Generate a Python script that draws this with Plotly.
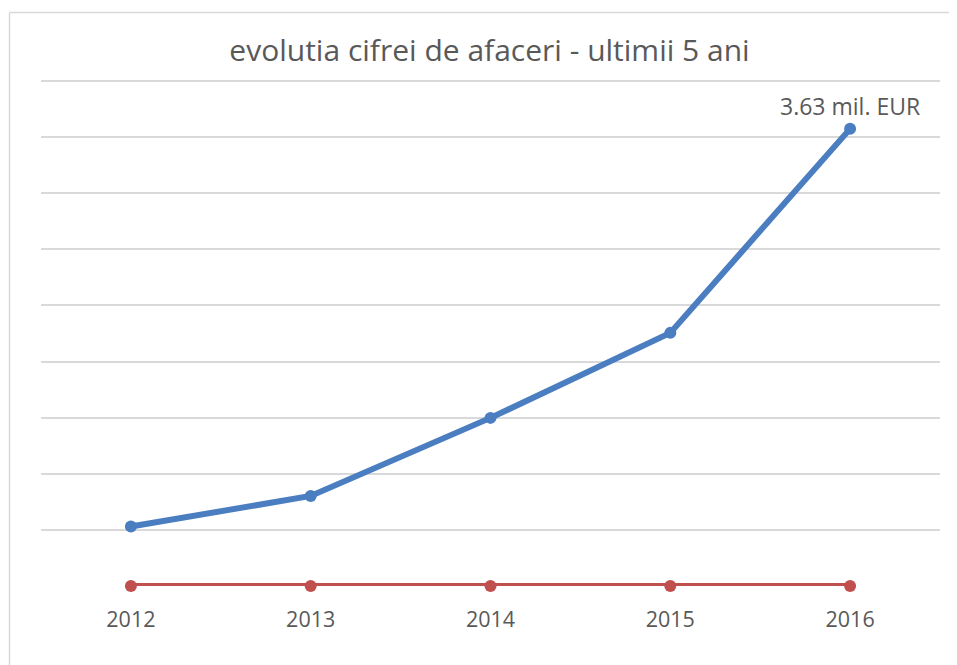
import plotly.graph_objects as go

years = ["2012", "2013", "2014", "2015", "2016"]
cifra_afaceri = [0.472, 0.715, 1.335, 2.01, 3.63]
serie_2 = [0, 0, 0, 0, 0]
labels = ["", "", "", "", "3.63 mil. EUR"]
title_text = "evolutia cifrei de afaceri - ultimii 5 ani"

# page body has an 8px margin, so the figure starts at (8, 8)
OFF = 8
W, H = 957 - OFF, 665 - OFF
EXTRA = 3  # px of plot above the top gridline so it is not clipped
L, T = 41 - OFF, 81 - OFF - EXTRA
pw, ph = 899, 505 + EXTRA
R, B = W - L - pw, H - T - ph
ymax = 4.01
step = ymax / 9
ytop = ymax * ph / 505

fig = go.Figure()
fig.add_trace(go.Scatter(
    x=years, y=serie_2, mode="lines+markers",
    line=dict(color="#C0504D", width=6), marker=dict(size=12, color="#C0504D"),
    cliponaxis=False, showlegend=False, hoverinfo="skip"))
fig.add_trace(go.Scatter(
    x=years, y=cifra_afaceri, mode="lines+markers+text", text=labels,
    textposition="top center",
    textfont=dict(family="Open Sans", size=23, color="#595959"),
    line=dict(color="#4A7EC0", width=6), marker=dict(size=12, color="#4A7EC0"),
    cliponaxis=False, showlegend=False, hoverinfo="skip"))

def px_x(px):
    return (px - OFF - L) / pw

def px_y(py):
    return (H - B - (py - OFF)) / ph

shapes = [
    dict(type="line", xref="paper", yref="paper", x0=px_x(9.5), x1=px_x(970),
         y0=px_y(12.5), y1=px_y(12.5), line=dict(color="#D9D9D9", width=1.5)),
    dict(type="line", xref="paper", yref="paper", x0=px_x(9.5), x1=px_x(9.5),
         y0=px_y(12.5), y1=px_y(680), line=dict(color="#D9D9D9", width=1.5)),
]

fig.update_layout(
    width=W, height=H,
    margin=dict(l=L, r=R, t=T, b=B),
    paper_bgcolor="white", plot_bgcolor="white",
    title=dict(text=title_text, xref="paper", x=px_x(489.5), xanchor="center",
               y=1 - (50 - OFF) / H, yanchor="middle",
               font=dict(family="Open Sans", size=30, color="#595959")),
    xaxis=dict(type="category", range=[-0.5, 4.5], showgrid=False, zeroline=False,
               showline=False, ticks="outside", ticklen=14, tickcolor="rgba(0,0,0,0)",
               tickfont=dict(family="Open Sans", size=21.5, color="#595959")),
    yaxis=dict(range=[0, ytop], dtick=step, tick0=0, showgrid=True,
               gridcolor="#D9D9D9", gridwidth=1.5, zeroline=False,
               showticklabels=False, showline=False),
    shapes=shapes,
)

fig.write_html("out.html")
